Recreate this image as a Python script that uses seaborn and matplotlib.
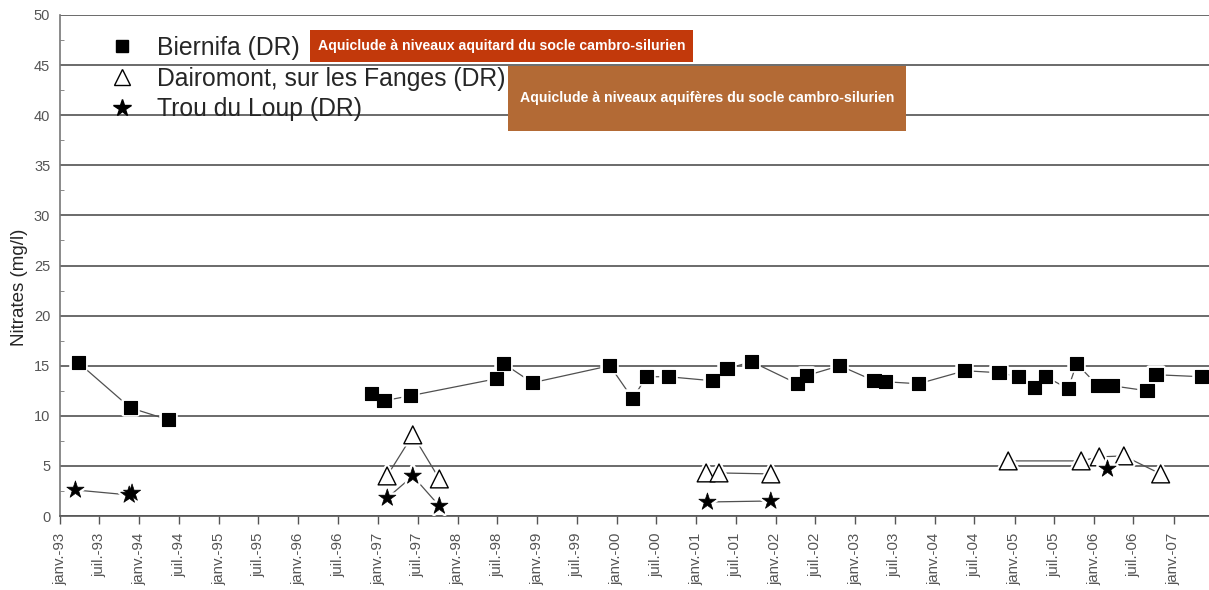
import pandas as pd
import numpy as np
import matplotlib
matplotlib.use("Agg")
import matplotlib.pyplot as plt
import matplotlib.patheffects as pe
from matplotlib.lines import Line2D
from matplotlib.patches import Rectangle
import seaborn as sns

# --- data --------------------------------------------------------------
biernifa_dates = ['1993-03-27', '1993-11-20', '1994-05-14', '1996-11-30', '1997-01-28',
                  '1997-05-28', '1998-06-28', '1998-08-01', '1998-12-10', '1999-12-01',
                  '2000-03-15', '2000-05-16', '2000-08-25', '2001-03-16', '2001-05-22',
                  '2001-09-12', '2002-04-10', '2002-05-20', '2002-10-22', '2003-03-28',
                  '2003-05-18', '2003-10-18', '2004-05-18', '2004-10-22', '2005-01-19',
                  '2005-04-04', '2005-05-25', '2005-09-04', '2005-10-13', '2006-01-19',
                  '2006-03-25', '2006-09-01', '2006-10-13', '2007-05-10']
biernifa_no3 = [15.3, 10.8, 9.6, 12.2, 11.5, 12.0, 13.7, 15.2, 13.3, 15.0,
                11.7, 13.9, 13.9, 13.5, 14.7, 15.4, 13.2, 14.0, 15.0, 13.5,
                13.4, 13.2, 14.5, 14.3, 13.9, 12.8, 13.9, 12.7, 15.2, 13.0,
                13.0, 12.5, 14.1, 13.9]

dairomont_dates = ['1997-02-11', '1997-06-09', '1997-10-09', '2001-02-15', '2001-04-15',
                   '2001-12-09', '2004-12-03', '2005-11-03', '2006-01-25', '2006-05-18',
                   '2006-11-03']
dairomont_no3 = [4.0, 8.1, 3.7, 4.3, 4.3, 4.2, 5.5, 5.5, 5.9, 6.0, 4.2]

trou_dates = ['1993-03-13', '1993-11-15', '1993-11-28', '1997-02-12', '1997-06-09',
              '1997-10-09', '2001-02-21', '2001-12-09', '2006-03-04']
trou_no3 = [2.6, 2.1, 2.3, 1.8, 4.0, 1.0, 1.4, 1.5, 4.7]

series_names = ['Biernifa (DR)', 'Dairomont, sur les Fanges (DR)', 'Trou du Loup (DR)']
box_labels = ['Aquiclude à niveaux aquitard du socle cambro-silurien',
              'Aquiclude à niveaux aquifères du socle cambro-silurien']
month_names = {1: 'janv.', 7: 'juil.'}

# --- build a long table ---------------------------------------------------
frames = []
for name, d, v in zip(series_names,
                      [biernifa_dates, dairomont_dates, trou_dates],
                      [biernifa_no3, dairomont_no3, trou_no3]):
    part = pd.DataFrame({'date': pd.to_datetime(d), 'no3': v, 'station': name})
    # break the connecting line where sampling stopped for more than two years
    part['seg'] = (part['date'].diff().dt.days > 730).cumsum()
    frames.append(part)
df = pd.concat(frames, ignore_index=True)
df['unit'] = df['station'] + '_' + df['seg'].astype(str)

sns.set_style('white')
plt.rcParams['font.family'] = ['Liberation Sans', 'DejaVu Sans']
narrow = ['Liberation Sans Narrow', 'Liberation Sans', 'DejaVu Sans']

fig = plt.figure(figsize=(12.09, 5.9), dpi=100)
ax = fig.add_axes([0.0496, 0.1254, 0.9504, 0.8492])

# connecting lines
sns.lineplot(data=df, x='date', y='no3', units='unit', estimator=None,
             color='#505050', linewidth=0.9, legend=False, ax=ax, zorder=3)

halo = [pe.Stroke(linewidth=4, foreground='white'), pe.Normal()]
styles = {
    'Biernifa (DR)': dict(marker='s', s=90, color='black', edgecolor='black', linewidth=0.8),
    'Dairomont, sur les Fanges (DR)': dict(marker='^', s=165, color='white', edgecolor='black', linewidth=1.0),
    'Trou du Loup (DR)': dict(marker='*', s=170, color='black', edgecolor='black', linewidth=0.5),
}
for name in series_names:
    sub = df[df['station'] == name]
    sns.scatterplot(data=sub, x='date', y='no3', ax=ax, legend=False, zorder=4,
                    **styles[name])
    ax.collections[-1].set_path_effects(halo)

# axes / grid
ax.set_ylim(0, 50)
ax.set_xlim(pd.Timestamp('1993-01-01'), pd.Timestamp('2007-06-13'))
ax.set_yticks(np.arange(0, 51, 5))
ax.set_yticks(np.arange(2.5, 50, 5), minor=True)
ax.yaxis.grid(True, which='major', color='#6a6a6a', linewidth=1.4)
ax.set_axisbelow(True)

tick_dates = pd.date_range('1993-01-01', '2007-01-01', freq='6MS')
ax.set_xticks(tick_dates)
ax.set_xticklabels([f"{month_names[t.month]}-{t.strftime('%y')}" for t in tick_dates],
                   rotation=90, family=narrow, fontsize=10.8, color='#555555')
for lab in ax.get_yticklabels():
    lab.set_family(narrow)
ax.tick_params(axis='y', which='major', length=0, labelsize=10.5, labelcolor='#555555', pad=7)
ax.tick_params(axis='y', which='minor', direction='in', length=3, color='#777777', left=True)
ax.tick_params(axis='x', direction='out', length=6, width=1, color='#555555',
               bottom=True, pad=6)

for side in ['top', 'right']:
    ax.spines[side].set_visible(False)
ax.spines['left'].set_color('#777777')
ax.spines['bottom'].set_color('#555555')
ax.spines['left'].set_linewidth(1.2)
ax.spines['bottom'].set_linewidth(1.2)

ax.set_xlabel('')
ax.set_ylabel('Nitrates (mg/l)', fontsize=13.5)
ax.yaxis.set_label_coords(-0.028, 0.457)

# legend
handles = [
    Line2D([], [], linestyle='none', marker='s', markersize=8, color='black'),
    Line2D([], [], linestyle='none', marker='^', markersize=11, markerfacecolor='white',
           markeredgecolor='black', markeredgewidth=1.0),
    Line2D([], [], linestyle='none', marker='*', markersize=13, color='black'),
]
leg = ax.legend(handles, series_names, loc='upper left', bbox_to_anchor=(0.0435, 0.958),
                frameon=False, fontsize=17.8, handlelength=1.0, handletextpad=0.9,
                labelspacing=0.27, borderaxespad=0, borderpad=0)
leg.set_zorder(5)

# coloured annotation boxes
fig.patches.append(Rectangle((0.2564, 0.8949), 0.3168, 0.0542, transform=fig.transFigure,
                             facecolor='#c2390b', edgecolor='none', zorder=6))
fig.text(0.2564 + 0.3168 / 2, 0.8949 + 0.0542 / 2, box_labels[0], color='white',
         fontsize=10.2, fontweight='bold', family=narrow, ha='center', va='center', zorder=7)
fig.patches.append(Rectangle((0.4202, 0.7780), 0.3292, 0.1102, transform=fig.transFigure,
                             facecolor='#b36a35', edgecolor='none', zorder=6))
fig.text(0.4202 + 0.3292 / 2, 0.7780 + 0.1102 / 2, box_labels[1], color='white',
         fontsize=10.2, fontweight='bold', family=narrow, ha='center', va='center', zorder=7)

fig.savefig('out.png', dpi=100)
